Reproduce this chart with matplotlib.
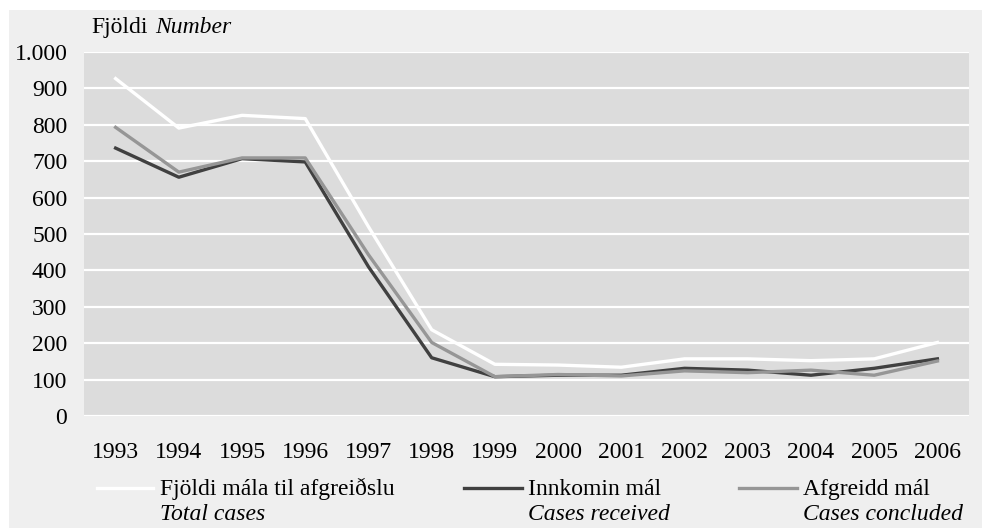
import matplotlib.pyplot as plt
from matplotlib.lines import Line2D
from matplotlib.patches import Rectangle
from matplotlib.ticker import FuncFormatter

# data
years = ["1993", "1994", "1995", "1996", "1997", "1998", "1999",
         "2000", "2001", "2002", "2003", "2004", "2005", "2006"]
total_cases = [927, 791, 826, 817, 520, 237, 142, 140, 134, 157, 157, 152, 157, 202]
cases_received = [736, 656, 707, 698, 410, 160, 108, 112, 112, 131, 126, 112, 131, 157]
cases_concluded = [793, 670, 709, 709, 443, 202, 108, 114, 110, 124, 119, 126, 112, 151]

plt.rcParams['font.family'] = ['Liberation Serif', 'DejaVu Serif']
FS = 17

W, H = 982, 528
fig = plt.figure(figsize=(W / 100, H / 100), dpi=100)
fig.patch.set_facecolor("white")

# light grey panel inside a thin white border (top and left)
fig.patches.append(Rectangle((9 / W, 0), 1 - 9 / W, 1 - 10 / H,
                             transform=fig.transFigure, facecolor="#efefef",
                             edgecolor="none", zorder=-10))

ax = fig.add_axes([84 / W, 1 - 416 / H, (969 - 84) / W, (416 - 52) / H])
ax.set_facecolor("#dcdcdc")

x = list(range(len(years)))
ax.plot(x, total_cases, color="white", lw=2.4, zorder=3)
ax.plot(x, cases_received, color="#404040", lw=2.4, zorder=3)
ax.plot(x, cases_concluded, color="#969696", lw=2.4, zorder=4)

ax.set_xlim(-0.5, len(years) - 0.5)
ax.set_ylim(0, 1000)
ax.set_yticks(range(0, 1001, 100))
ax.yaxis.set_major_formatter(FuncFormatter(lambda v, p: f"{int(v):,}".replace(",", ".")))
ax.set_xticks(x)
ax.set_xticklabels(years)
ax.grid(axis="y", color="white", lw=1.6)
ax.set_axisbelow(True)
for s in ax.spines.values():
    s.set_visible(False)
ax.tick_params(axis="both", length=0, labelsize=FS, colors="black")
ax.tick_params(axis="x", pad=19)
ax.tick_params(axis="y", pad=12)

# axis title
fig.text(91 / W, 1 - 33 / H, "Fjöldi", fontsize=FS, va="baseline", ha="left")
fig.text(155 / W, 1 - 33 / H, "Number", fontsize=FS, va="baseline", ha="left", style="italic")

# legend, drawn by hand (two-line labels with italic English)
legend_items = [
    ("white", "Fjöldi mála til afgreiðslu", "Total cases", 97, 153, 160),
    ("#404040", "Innkomin mál", "Cases received", 464, 522, 528),
    ("#969696", "Afgreidd mál", "Cases concluded", 739, 797, 803),
]
for col, lab1, lab2, x0, x1, tx in legend_items:
    fig.add_artist(Line2D([x0 / W, x1 / W], [1 - 488 / H, 1 - 488 / H],
                          transform=fig.transFigure, color=col, lw=2.4))
    fig.text(tx / W, 1 - 495 / H, lab1, fontsize=FS, va="baseline", ha="left")
    fig.text(tx / W, 1 - 520 / H, lab2, fontsize=FS, va="baseline", ha="left", style="italic")

fig.savefig("out.png", dpi=100, facecolor=fig.get_facecolor())
